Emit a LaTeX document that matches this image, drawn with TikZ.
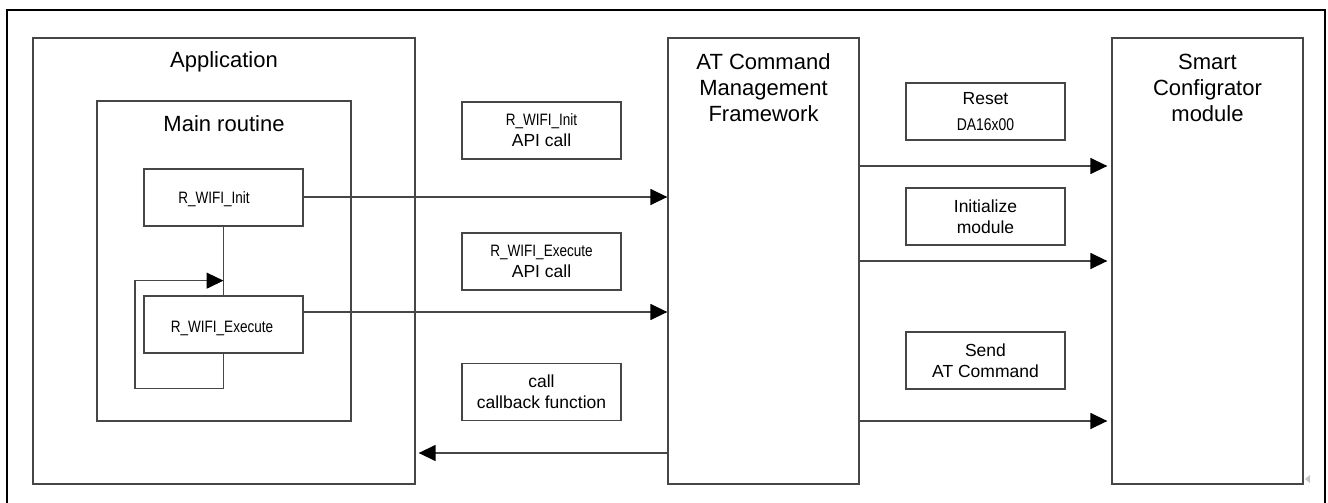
\documentclass[tikz,border=0pt]{standalone}
\usepackage{fontspec}
\setmainfont{Liberation Sans}
\newfontfamily\narrowfont[FakeStretch=0.82]{Liberation Sans}
\usetikzlibrary{arrows.meta,calc}

\definecolor{edgegray}{RGB}{70,70,70}

\tikzset{
  frame/.style={draw=edgegray, line width=1.3pt, inner sep=0pt},
  title/.style={font=\fontsize{22}{26}\selectfont, align=center, inner sep=0pt},
  tag/.style={frame, minimum width=159pt, minimum height=57pt, align=center,
              font=\fontsize{17.5}{21}\selectfont},
  fn/.style={font=\narrowfont\fontsize{16.5}{20}\selectfont, inner sep=0pt},
  flow/.style={draw=edgegray, line width=1.4pt,
               -{Triangle[length=17pt,width=16pt,color=black]}},
}

\begin{document}
\begin{tikzpicture}[x=1pt,y=-1pt]
\useasboundingbox (0,0) rectangle (1328,503);

% page frame (open at the bottom)
\draw[line width=2pt] (7,503) -- (7,10) -- (1325,10) -- (1325,503);

% application side
\node[frame, minimum width=382pt, minimum height=446pt] (app) at (224,261) {};
\node[title] (apptitle) at (224,62) {Application};
\node[frame, minimum width=254pt, minimum height=320pt] (main) at (224,261) {};
\node[title] (maintitle) at (224,124) {Main routine};

\node[frame, minimum width=159pt, minimum height=57pt] (init) at (223.5,197.5) {};
\node[fn] (inittext) at (214,199) {R\_WIFI\_Init};
\node[frame, minimum width=159pt, minimum height=57pt] (exec) at (223.5,324.5) {};
\node[fn] (exectext) at (222,328) {R\_WIFI\_Execute};

% framework and module
\node[frame, minimum width=191pt, minimum height=446pt] (at) at (763.5,261) {};
\node[title] (attitle) at (763.5,87.5) {AT Command\\Management\\Framework};
\node[frame, minimum width=191pt, minimum height=446pt] (smart) at (1207.5,261) {};
\node[title] (smarttitle) at (1207.5,87.5) {Smart\\Configrator\\module};

% labels between application and framework
\node[tag] (initcall) at (541.5,130.5) {{\narrowfont\fontsize{16.5}{20}\selectfont R\_WIFI\_Init}\\API call};
\node[tag] (execcall) at (541.5,261.5) {{\narrowfont\fontsize{16.5}{20}\selectfont R\_WIFI\_Execute}\\API call};
\node[tag] (cbcall) at (541.5,392) {call\\callback function};

% labels between framework and module
\node[tag, font=\fontsize{17.5}{28}\selectfont] (reset) at (985.5,111.5) {\raisebox{-2pt}{Reset}\\{\narrowfont\fontsize{17}{20}\selectfont DA16x00}};
\node[tag] (initmod) at (985.5,216.5) {Initialize\\module};
\node[tag] (sendcmd) at (985.5,360.5) {Send\\AT Command};

% main routine control flow
\draw[draw=edgegray, line width=1.3pt] (init.south) -- (exec.north);
\draw[flow] (exec.south) -- ++(0,35) -| ++(-88.5,-108) -- ++(88.5,0);

% API calls into the framework
\coordinate (initout) at ([yshift=0.5pt]init.east);
\draw[flow] (initout) -- (initout -| at.west);
\coordinate (execout) at ([yshift=12.5pt]exec.east);
\draw[flow] (execout) -- (execout -| at.west);

% callback back to the application
\coordinate (cbout) at (668,453);
\draw[flow, shorten >=3pt] (cbout) -- (cbout -| app.east);

% framework to module
\coordinate (reseto) at (859,166);
\coordinate (inito) at (859,261);
\coordinate (sendo) at (859,421);
\draw[flow, shorten >=4pt] (reseto) -- (reseto -| smart.west);
\draw[flow, shorten >=4pt] (inito) -- (inito -| smart.west);
\draw[flow, shorten >=4pt] (sendo) -- (sendo -| smart.west);

% small corner marker
\fill[gray!45] (1305,479) -- (1310,475) -- (1310,483) -- cycle;
\end{tikzpicture}
\end{document}
